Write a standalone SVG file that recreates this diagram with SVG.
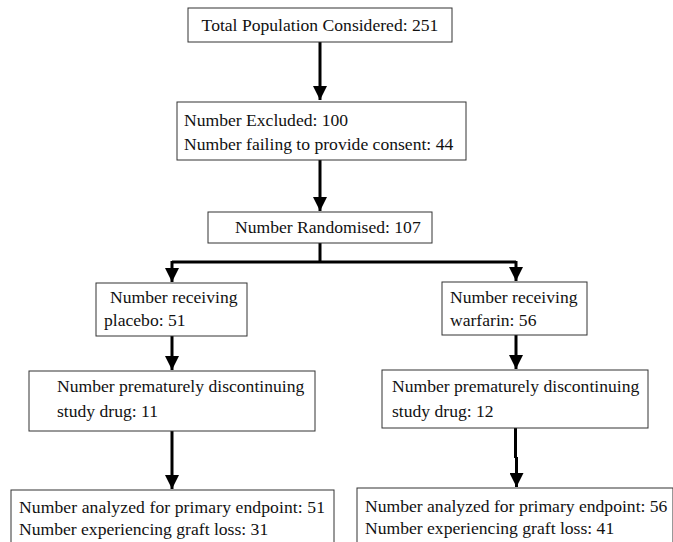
<svg xmlns="http://www.w3.org/2000/svg" width="673" height="542" viewBox="0 0 673 542">
<style>
.box{fill:#fff;stroke:#333;stroke-width:1}
.t{font-family:"Liberation Serif","Times New Roman",serif;font-size:17.6px;fill:#111}
.c{stroke:#000;stroke-width:3;fill:none}
</style>
<defs>
<marker id="ah2" viewBox="0 0 14 14" refX="14" refY="7" markerWidth="14" markerHeight="14" markerUnits="userSpaceOnUse" orient="auto">
<path d="M0,0 L14,7 L0,14 Z" fill="#000"/>
</marker>
</defs>
<rect width="673" height="542" fill="#fff"/>
<g id="connectors">
<path class="c" d="M320,42 V100" marker-end="url(#ah2)"/>
<path class="c" d="M320,160 V211" marker-end="url(#ah2)"/>
<path class="c" d="M320,243 V262"/>
<path class="c" d="M172,262 H516"/>
<path class="c" d="M172,261 V282" marker-end="url(#ah2)"/>
<path class="c" d="M516,261 V281" marker-end="url(#ah2)"/>
<path class="c" d="M172,336 V370" marker-end="url(#ah2)"/>
<path class="c" d="M516,335 V369" marker-end="url(#ah2)"/>
<path class="c" d="M172,431 V489" marker-end="url(#ah2)"/>
<path class="c" d="M515.5,428 V458 M516.5,457 V487" marker-end="url(#ah2)"/>
</g>
<g id="n1">
<rect class="box" x="188" y="8" width="264" height="34"/>
<text class="t" x="320" y="31" text-anchor="middle">Total Population Considered: 251</text>
</g>
<g id="n2">
<rect class="box" x="177" y="102" width="289" height="58"/>
<text class="t" x="184" y="126">Number Excluded: 100</text>
<text class="t" x="184" y="150">Number failing to provide consent: 44</text>
</g>
<g id="n3">
<rect class="box" x="208" y="212" width="224" height="31"/>
<text class="t" x="235" y="233">Number Randomised: 107</text>
</g>
<g id="n4">
<rect class="box" x="96" y="283" width="151" height="53"/>
<text class="t" x="110" y="303">Number receiving</text>
<text class="t" x="104" y="326">placebo: 51</text>
</g>
<g id="n5">
<rect class="box" x="442" y="282" width="145" height="53"/>
<text class="t" x="450" y="303">Number receiving</text>
<text class="t" x="450" y="326">warfarin: 56</text>
</g>
<g id="n6">
<rect class="box" x="29" y="371" width="286" height="60"/>
<text class="t" x="57" y="392">Number prematurely discontinuing</text>
<text class="t" x="57" y="417">study drug: 11</text>
</g>
<g id="n7">
<rect class="box" x="382" y="370" width="266" height="58"/>
<text class="t" x="392" y="392">Number prematurely discontinuing</text>
<text class="t" x="392" y="417">study drug: 12</text>
</g>
<g id="n8">
<rect class="box" x="11" y="490" width="323" height="60"/>
<text class="t" x="19" y="513" textLength="306">Number analyzed for primary endpoint: 51</text>
<text class="t" x="19" y="535">Number experiencing graft loss: 31</text>
</g>
<g id="n9">
<rect class="box" x="357" y="488" width="316" height="62"/>
<text class="t" x="365" y="512">Number analyzed for primary endpoint: 56</text>
<text class="t" x="365" y="534">Number experiencing graft loss: 41</text>
</g>
</svg>
